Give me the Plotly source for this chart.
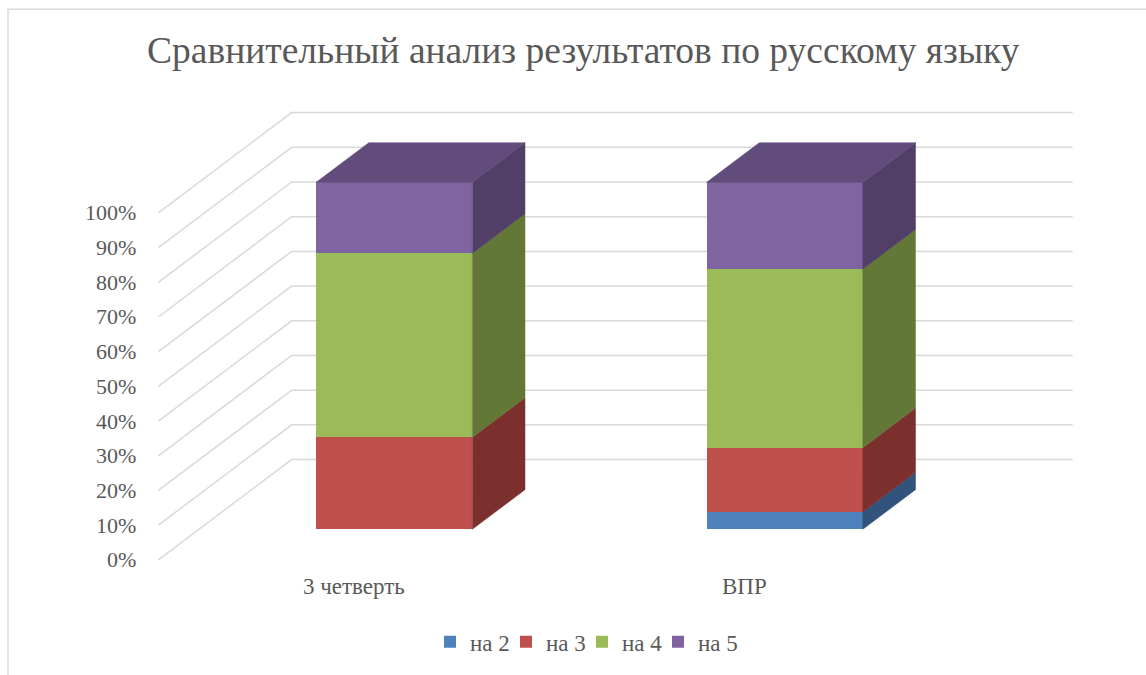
import plotly.graph_objects as go

# Data (percent of pupils by grade)
categories = ["3 четверть", "ВПР"]
series_names = ["на 2", "на 3", "на 4", "на 5"]
na_2 = [0, 5]
na_3 = [26.5, 18.5]
na_4 = [53, 51.5]
na_5 = [20.5, 25]
tick_values = [0, 10, 20, 30, 40, 50, 60, 70, 80, 90, 100]
tick_labels = [f"{v}%" for v in tick_values]

series_values = [na_2, na_3, na_4, na_5]
front_colors = ["#4F81BD", "#C0504D", "#9BBB59", "#8064A2"]
side_colors = ["#31537C", "#7B302E", "#637837", "#513F68"]
top_colors = ["#3C659A", "#963D3B", "#789143", "#614C7B"]

FONT = "'Liberation Serif', 'DejaVu Serif', serif"
TEXT_COLOR = "#595959"
GRID_COLOR = "#d9d9d9"

# fake 3D: depth runs from the front axis (z=0) to the back wall (z=1)
DX, DY = 0.3414, 28.91
Z_FRONT, Z_BACK = 0.305, 0.70
BAR_W = 0.4


def proj(x, y, z):
    return x + (z - Z_FRONT) * DX, y + (z - Z_FRONT) * DY


fig = go.Figure()

# front faces of the stacked bars
for name, vals, col in zip(series_names, series_values, front_colors):
    fig.add_trace(go.Bar(
        x=list(range(len(categories))), y=vals, name=name, width=BAR_W,
        marker=dict(color=col, line=dict(width=0)),
        hovertext=categories, hovertemplate="%{hovertext}: %{y}%<extra>" + name + "</extra>",
    ))

# empty entry so the narrow legend does not clip the last label
fig.add_trace(go.Bar(x=[None], y=[None], name=" ",
                     marker=dict(color="rgba(0,0,0,0)", line=dict(width=0, color="rgba(0,0,0,0)")),
                     hoverinfo="skip"))

# side and top faces
for i in range(len(categories)):
    base = 0
    xl, xr = i - BAR_W / 2, i + BAR_W / 2
    for k, vals in enumerate(series_values):
        top = base + vals[i]
        if vals[i] > 0:
            pts = [proj(xr, base, Z_FRONT), proj(xr, base, Z_BACK),
                   proj(xr, top, Z_BACK), proj(xr, top, Z_FRONT), proj(xr, base, Z_FRONT)]
            fig.add_trace(go.Scatter(
                x=[p[0] for p in pts], y=[p[1] for p in pts], mode="lines", fill="toself",
                fillcolor=side_colors[k], line=dict(color=side_colors[k], width=0.5),
                hoverinfo="skip", showlegend=False,
            ))
            last = k
        base = top
    pts = [proj(xl, base, Z_FRONT), proj(xr, base, Z_FRONT), proj(xr, base, Z_BACK),
           proj(xl, base, Z_BACK), proj(xl, base, Z_FRONT)]
    fig.add_trace(go.Scatter(
        x=[p[0] for p in pts], y=[p[1] for p in pts], mode="lines", fill="toself",
        fillcolor=top_colors[last], line=dict(color=top_colors[last], width=0.5),
        hoverinfo="skip", showlegend=False,
    ))

# gridlines on the left wall and back wall
x_lo, x_hi = -0.5, len(categories) - 0.5
for v in tick_values:
    a = proj(x_lo, v, 0)
    b = proj(x_lo, v, 1)
    c = proj(x_hi, v, 1)
    fig.add_shape(type="path", path=f"M {a[0]},{a[1]} L {b[0]},{b[1]} L {c[0]},{c[1]}",
                  xref="x", yref="y", layer="below",
                  line=dict(color=GRID_COLOR, width=1.5))

# tick labels on the front edge
for v, lab in zip(tick_values, tick_labels):
    px, py = proj(x_lo, v, 0)
    fig.add_annotation(x=px, y=py, text=lab, showarrow=False, xanchor="right",
                       yanchor="middle", xshift=-20,
                       font=dict(family=FONT, size=22, color=TEXT_COLOR))

# category labels
for i, cat in enumerate(categories):
    px, py = proj(i, 0, 0)
    fig.add_annotation(x=px, y=py, text=cat, showarrow=False, xanchor="center",
                       yanchor="middle", yshift=-27,
                       font=dict(family=FONT, size=23, color=TEXT_COLOR))

# chart area border
fig.add_shape(type="rect", xref="paper", yref="paper", x0=-0.092, x1=1.2, y0=-0.3, y1=1.1365,
              line=dict(color=GRID_COLOR, width=1.5), layer="below")

fig.update_layout(
    width=1146, height=675,
    margin=dict(l=100, r=46, t=80, b=75),
    paper_bgcolor="white", plot_bgcolor="white",
    barmode="stack",
    title=dict(text="Сравнительный анализ результатов по русскому языку",
               x=0.509, xanchor="center", y=1 - 50 / 675, yanchor="middle",
               font=dict(family=FONT, size=37.5, color=TEXT_COLOR)),
    xaxis=dict(range=[-0.7535, 1.8073], visible=False, fixedrange=True),
    yaxis=dict(range=[-19.81, 129.49], visible=False, fixedrange=True),
    legend=dict(orientation="h", x=0.33, xanchor="left", y=-0.0846, yanchor="middle",
                entrywidth=31, traceorder="normal",
                font=dict(family=FONT, size=23, color=TEXT_COLOR)),
    font=dict(family=FONT, color=TEXT_COLOR),
)

fig.write_html("out.html", config={"displayModeBar": False},
               post_script="document.body.style.margin = '0';")
